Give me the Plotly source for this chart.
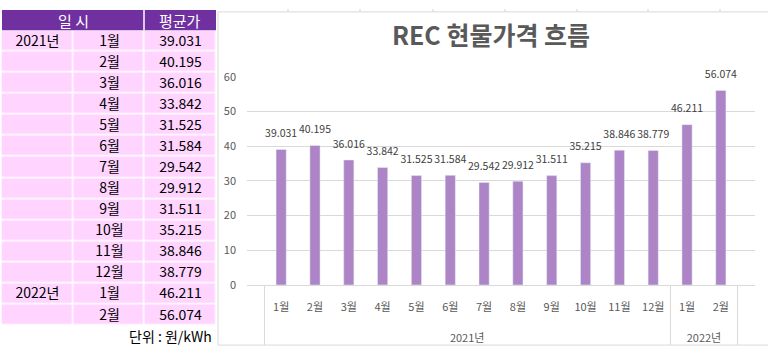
import plotly.graph_objects as go

years = ["2021년"] * 12 + ["2022년"] * 2
months = ["1월", "2월", "3월", "4월", "5월", "6월", "7월", "8월", "9월", "10월", "11월", "12월", "1월", "2월"]
prices = [39.031, 40.195, 36.016, 33.842, 31.525, 31.584, 29.542, 29.912, 31.511, 35.215, 38.846, 38.779, 46.211, 56.074]
header_left = "일 시"
header_right = "평균가"
unit_note = "단위 : 원/kWh"
title_text = "REC 현물가격 흐름"

labels = [f"{v:.3f}" for v in prices]
year_col = [y if (i == 0 or years[i - 1] != y) else "" for i, y in enumerate(years)]
SPAN = "<span style='font-size:11px'>{}</span>"
month_ticks = [SPAN.format(m) for m in months]
year_ticks = ["<br><br>" + SPAN.format(y) for y in years]

W, H = 768, 354
FONT = "Noto Sans CJK KR"
PURPLE = "#7030A0"
PINK = "#FFD5FF"
BAR = "#AD84C6"
GRID = "#D9D9D9"

fig = go.Figure()

# table body as a grid of cells (rows x 3 columns)
n = len(months)
cell_text = [[year_col[i], months[i], labels[i]] for i in range(n)]
cell_z = [[1, 1, 1] for _ in range(n)]
fig.add_trace(go.Heatmap(
    z=cell_z, x=[0, 1, 2], y=list(range(n)), text=cell_text,
    texttemplate="%{text}", textfont=dict(family=FONT, size=14, color="black"),
    colorscale=[[0, PINK], [1, PINK]], showscale=False,
    xgap=1.5, ygap=1.5, hoverinfo="skip", xaxis="x2", yaxis="y2",
))

xcats = [year_ticks, month_ticks]
fig.add_trace(go.Bar(
    x=xcats, y=prices, marker_color=BAR, hoverinfo="skip",
))
fig.add_trace(go.Scatter(
    x=xcats, y=prices, mode="markers+text", text=labels,
    textposition="top center", marker=dict(size=14, opacity=0),
    textfont=dict(family=FONT, size=10.5, color="#404040"),
    cliponaxis=False, hoverinfo="skip", showlegend=False,
))

# decorative spreadsheet cell borders peeking above the chart box
sheet_cols = [288, 360, 433, 505, 577, 648, 720]
deco = [dict(type="line", xref="paper", yref="paper", x0=c / W, x1=c / W,
             y0=1 - 3 / H, y1=1, line=dict(color="#D4D4D4", width=1))
        for c in sheet_cols]

fig.update_layout(
    width=W, height=H,
    margin=dict(l=0, r=0, t=0, b=0),
    paper_bgcolor="white", plot_bgcolor="white",
    showlegend=False,
    bargap=0.7,
    font=dict(family=FONT, color="#595959"),
    title=dict(text="<b>" + title_text + "</b>", x=491 / W, xanchor="center",
               y=1 - 36 / H, yanchor="middle",
               font=dict(family=FONT, size=25, color="#595959")),
    xaxis=dict(
        domain=[247 / W, 755 / W], type="multicategory",
        showline=True, linecolor=GRID, linewidth=1,
        showdividers=True, dividercolor=GRID, dividerwidth=1,
        tickfont=dict(family=FONT, size=10, color="#595959"),
        ticks="", showgrid=False, ticklabelstandoff=13,
    ),
    yaxis=dict(
        domain=[(H - 289) / H, (H - 71) / H], range=[0, 60], dtick=10,
        gridcolor=GRID, gridwidth=1, zeroline=False, showline=False,
        tickfont=dict(family=FONT, size=11, color="#595959"),
        ticks="", ticklabelstandoff=10,
    ),
    xaxis2=dict(domain=[1.5 / W, 216.5 / W], range=[-0.5, 2.5], visible=False,
                anchor="y2", fixedrange=True),
    yaxis2=dict(domain=[(H - 331.5) / H, (H - 22.5) / H], range=[n - 0.5, -0.5],
                visible=False, anchor="x2", fixedrange=True),
    shapes=deco + [
        dict(type="rect", xref="paper", yref="paper",
             x0=218 / W, x1=1.01, y0=(H - 352) / H, y1=(H - 3) / H,
             line=dict(color=GRID, width=1), layer="below"),
        dict(type="rect", xref="paper", yref="paper",
             x0=2 / W, x1=216 / W, y0=1 - 22.2 / H, y1=1 - 1 / H,
             fillcolor=PURPLE, line=dict(width=0)),
        dict(type="line", xref="paper", yref="paper",
             x0=144 / W, x1=144 / W, y0=1 - 22.2 / H, y1=1 - 1 / H,
             line=dict(color="white", width=1.5)),
    ],
    annotations=[
        dict(text=header_left, xref="paper", yref="paper", x=73 / W, y=1 - 12 / H,
             xanchor="center", yanchor="middle", showarrow=False,
             font=dict(family=FONT, size=15, color="white")),
        dict(text=header_right, xref="paper", yref="paper", x=180 / W, y=1 - 12 / H,
             xanchor="center", yanchor="middle", showarrow=False,
             font=dict(family=FONT, size=15, color="white")),
        dict(text=unit_note, xref="paper", yref="paper", x=214 / W, y=1 - 343 / H,
             xanchor="right", yanchor="middle", showarrow=False,
             font=dict(family=FONT, size=14, color="black")),
    ],
)

fig.write_html("out.html")
